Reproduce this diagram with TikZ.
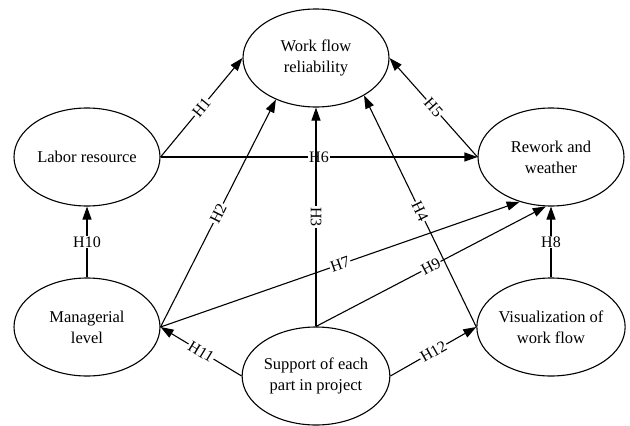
\documentclass[tikz,border=0pt]{standalone}
\usepackage{fontspec}
\setmainfont{Liberation Serif}
\usetikzlibrary{arrows.meta,shapes.geometric}
\begin{document}
\begin{tikzpicture}[x=1pt,y=-1pt,
  construct/.style={draw,ellipse,line width=1.1pt,minimum width=146pt,minimum height=98pt,inner sep=0pt,align=center,font=\fontsize{16.5}{21}\selectfont},
  link/.style={line width=1.1pt,-{Triangle[length=13pt,width=9pt]}},
  hyp/.style={fill=white,inner sep=1pt,font=\fontsize{16}{18}\selectfont}]
\useasboundingbox (0,0) rectangle (630,426);
\node[construct] (wf) at (316,58) {Work flow\\reliability};
\node[construct] (lab) at (87,157) {Labor resource};
\node[construct] (rw) at (551,157) {Rework and\\weather};
\node[construct] (mgr) at (87,327) {Managerial\\level};
\node[construct] (sup) at (316,376) {Support of each\\part in project};
\node[construct] (vis) at (551,327) {Visualization of\\work flow};
\draw[link] (lab.east) -- node[hyp,sloped] {H1} (wf.west);
\draw[link] (lab.east) -- node[hyp] {H6} (rw.west);
\draw[link] (rw.west) -- node[hyp,sloped] {H5} (wf.east);
\draw[link] (mgr.east) -- node[hyp,sloped] {H2} (wf.226);
\draw[link] (sup.north) -- node[hyp,rotate=-90] {H3} (wf.south);
\draw[link] (vis.west) -- node[hyp,sloped] {H4} (wf.322);
\draw[link] (mgr.east) -- node[hyp,sloped] {H7} (rw.235);
\draw[link] (sup.north) -- node[hyp,sloped] {H9} (rw.264);
\draw[link] (vis.north) -- node[hyp] {H8} (rw.south);
\draw[link] (mgr.north) -- node[hyp] {H10} (lab.south);
\draw[link] (sup.west) -- node[hyp,sloped] {H11} (mgr.east);
\draw[link] (sup.east) -- node[hyp,sloped] {H12} (vis.west);
\end{tikzpicture}
\end{document}
